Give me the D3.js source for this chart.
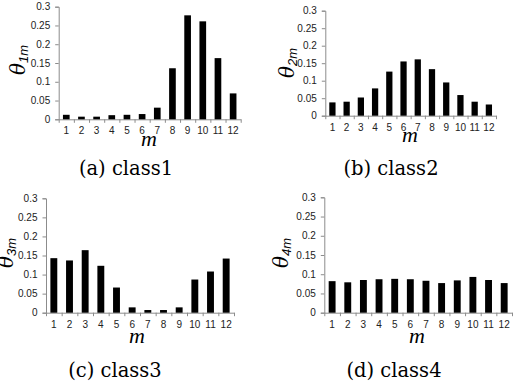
<!DOCTYPE html>
<html>
<head>
<meta charset="utf-8">
<script src="https://cdn.jsdelivr.net/npm/d3@7"></script>
<style>
  body { margin: 0; background: #fff; }
  svg { display: block; }
</style>
</head>
<body>
<section></section>
<script>
"use strict";

const w = 514;
const h = 385;

//Data
const months = ["1", "2", "3", "4", "5", "6", "7", "8", "9", "10", "11", "12"];
const yTicks = [0, 0.05, 0.1, 0.15, 0.2, 0.25, 0.3];
const class1 = [0.012, 0.007, 0.007, 0.011, 0.012, 0.014, 0.031, 0.136, 0.277, 0.261, 0.163, 0.069];
const class2 = [0.038, 0.040, 0.052, 0.078, 0.126, 0.155, 0.161, 0.133, 0.095, 0.059, 0.040, 0.032];
const class3 = [0.143, 0.137, 0.164, 0.123, 0.066, 0.014, 0.007, 0.007, 0.014, 0.087, 0.108, 0.142];
const class4 = [0.082, 0.079, 0.085, 0.087, 0.088, 0.087, 0.083, 0.077, 0.084, 0.093, 0.085, 0.077];
const subscripts = ["1m", "2m", "3m", "4m"];
const captions = ["(a) class1", "(b) class2", "(c) class3", "(d) class4"];

//Layout of the four panels (pixels)
const panels = [
  { values: class1, x0: 58.7, x1: 240.7, yTop: 6.7, yBot: 119.3, lx: 25, ly: 60, mx: 149, my: 146, cx: 126, cy: 175 },
  { values: class2, x0: 325.3, x1: 496, yTop: 10.7, yBot: 115.7, lx: 294, ly: 63, mx: 410, my: 141.7, cx: 391, cy: 175 },
  { values: class3, x0: 46, x1: 234, yTop: 198.3, yBot: 312.7, lx: 13, ly: 253, mx: 137, my: 343, cx: 115, cy: 377 },
  { values: class4, x0: 324.3, x1: 512, yTop: 197.3, yBot: 312.7, lx: 288, ly: 253, mx: 417, my: 343, cx: 394, cy: 377 },
];

const axisColor = "#8c8c8c";
const tickFont = "Liberation Sans, Arial, sans-serif";

const svg = d3.select("section").append("svg").attr("width", w).attr("height", h);

panels.forEach((p, i) => {
  const g = svg.append("g");

  const xScale = d3.scaleBand().domain(months).range([p.x0, p.x1]).paddingInner(0.56).paddingOuter(0.28);
  const xEdges = d3.scaleLinear().domain([0, months.length]).range([p.x0, p.x1]);
  const yScale = d3.scaleLinear().domain([0, 0.3]).range([p.yBot, p.yTop]);

  //y axis
  g.append("g")
    .attr("transform", `translate(${p.x0}, 0)`)
    .call(d3.axisLeft(yScale).tickValues(yTicks).tickSize(3.5).tickPadding(5).tickFormat((d) => String(+d.toFixed(2))))
    .call((a) => a.selectAll("line, path").attr("stroke", axisColor))
    .call((a) => a.selectAll("text").attr("fill", "#222").style("font", `10px ${tickFont}`));

  //x axis: ticks between categories
  g.append("g")
    .attr("transform", `translate(0, ${p.yBot})`)
    .call(d3.axisBottom(xEdges).tickValues(d3.range(months.length + 1)).tickSize(3.5).tickSizeOuter(0).tickFormat(""))
    .call((a) => a.selectAll("line, path").attr("stroke", axisColor));

  //x labels
  g.append("g")
    .attr("transform", `translate(0, ${p.yBot})`)
    .call(d3.axisBottom(xScale).tickSize(0).tickPadding(8))
    .call((a) => a.select(".domain").remove())
    .call((a) => a.selectAll("text").attr("fill", "#222").style("font", `10px ${tickFont}`));

  //bars
  g.selectAll("rect")
    .data(p.values)
    .enter()
    .append("rect")
    .attr("x", (d, j) => xScale(months[j]))
    .attr("y", (d) => yScale(d))
    .attr("width", xScale.bandwidth())
    .attr("height", (d) => yScale(0) - yScale(d))
    .attr("fill", "#000");

  //y label
  const yl = g.append("text")
    .attr("transform", `translate(${p.lx}, ${p.ly}) rotate(-90)`)
    .attr("text-anchor", "middle")
    .attr("fill", "#000");
  yl.append("tspan")
    .style("font", "italic 20px DejaVu Serif, serif")
    .text("θ");
  yl.append("tspan")
    .attr("dy", 3)
    .style("font", `italic 13px ${tickFont}`)
    .text(subscripts[i]);

  //x label
  g.append("text")
    .attr("x", p.mx)
    .attr("y", p.my)
    .attr("text-anchor", "middle")
    .style("font", "italic 22px Liberation Serif, serif")
    .text("m");

  //caption
  g.append("text")
    .attr("x", p.cx)
    .attr("y", p.cy)
    .attr("text-anchor", "middle")
    .style("font", "19.5px DejaVu Serif, serif")
    .text(captions[i]);
});
</script>
</body>
</html>
